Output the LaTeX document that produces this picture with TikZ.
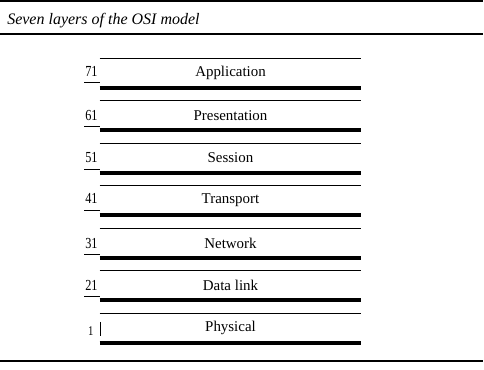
\documentclass[tikz,border=0pt]{standalone}
\usepackage{fontspec}
\setmainfont{Liberation Serif}
\usetikzlibrary{positioning}

\begin{document}
\begin{tikzpicture}[x=0.75pt, y=-0.75pt,
    layer/.style={rectangle, minimum width=195.75pt, minimum height=21.75pt, inner sep=0pt, font=\fontsize{11.2}{13}\selectfont},
    num/.style={anchor=base east, inner sep=0pt, font=\fontsize{11.5}{13}\selectfont, xscale=0.8, transform shape},
    toprule/.style={line width=0.75pt},
    baserule/.style={line width=3pt},
    numline/.style={line width=0.5pt},
    frame/.style={line width=1pt}
]
\useasboundingbox (0,0) rectangle (484,370);

% caption between two rules
\node[anchor=base west, inner sep=0pt, font=\fontsize{12}{14}\selectfont\itshape] (caption) at (7,25) {Seven layers of the OSI model};
\draw[frame] (0,1) -- (483,1);
\draw[frame] (0,34) -- (483,34);
\draw[frame] (0,361) -- (483,361);

% the seven layers
\node[layer] (app) at (230.5,73) {Application};
\node[layer, below=9.75pt of app] (pres) {Presentation};
\node[layer, below=9.75pt of pres] (sess) {Session};
\node[layer, below=9.75pt of sess] (trans) {Transport};
\node[layer, below=9.75pt of trans] (net) {Network};
\node[layer, below=9.75pt of net] (link) {Data link};
\node[layer, below=9.75pt of link] (phys) {Physical};

\draw[toprule] (app.north west) -- (app.north east);
\draw[baserule] (app.south west) -- (app.south east);
\draw[toprule] (pres.north west) -- (pres.north east);
\draw[baserule] (pres.south west) -- (pres.south east);
\draw[toprule] (sess.north west) -- (sess.north east);
\draw[baserule] (sess.south west) -- (sess.south east);
\draw[toprule] (trans.north west) -- (trans.north east);
\draw[baserule] (trans.south west) -- (trans.south east);
\draw[toprule] (net.north west) -- (net.north east);
\draw[baserule] (net.south west) -- (net.south east);
\draw[toprule] (link.north west) -- (link.north east);
\draw[baserule] (link.south west) -- (link.south east);
\draw[toprule] (phys.north west) -- (phys.north east);
\draw[baserule] (phys.south west) -- (phys.south east);

% layer numbers
\node[num] (n7) at ([xshift=-1.5pt]app.base west) {71};
\node[num] (n6) at ([xshift=-1.5pt]pres.base west) {61};
\node[num] (n5) at ([xshift=-1.5pt]sess.base west) {51};
\node[num] (n4) at ([xshift=-1.5pt]trans.base west) {41};
\node[num] (n3) at ([xshift=-1.5pt]net.base west) {31};
\node[num] (n2) at ([xshift=-1.5pt]link.base west) {21};
\node[num, font=\fontsize{10}{11}\selectfont] (n1) at ([xshift=-4.5pt,yshift=-3pt]phys.base west) {1};

\draw[numline] ([xshift=-0.5pt,yshift=-4.5pt]n7.base west) -- ([yshift=-4.5pt]n7.base -| app.west);
\draw[numline] ([xshift=-0.5pt,yshift=-4.5pt]n6.base west) -- ([yshift=-4.5pt]n6.base -| pres.west);
\draw[numline] ([xshift=-0.5pt,yshift=-4.5pt]n5.base west) -- ([yshift=-4.5pt]n5.base -| sess.west);
\draw[numline] ([xshift=-0.5pt,yshift=-4.5pt]n4.base west) -- ([yshift=-4.5pt]n4.base -| trans.west);
\draw[numline] ([xshift=-0.5pt,yshift=-4.5pt]n3.base west) -- ([yshift=-4.5pt]n3.base -| net.west);
\draw[numline] ([xshift=-0.5pt,yshift=-4.5pt]n2.base west) -- ([yshift=-4.5pt]n2.base -| link.west);
\draw[toprule] ([xshift=0.75pt,yshift=10.5pt]phys.west |- n1.base) -- ([xshift=0.75pt]phys.west |- n1.base);
\end{tikzpicture}
\end{document}
